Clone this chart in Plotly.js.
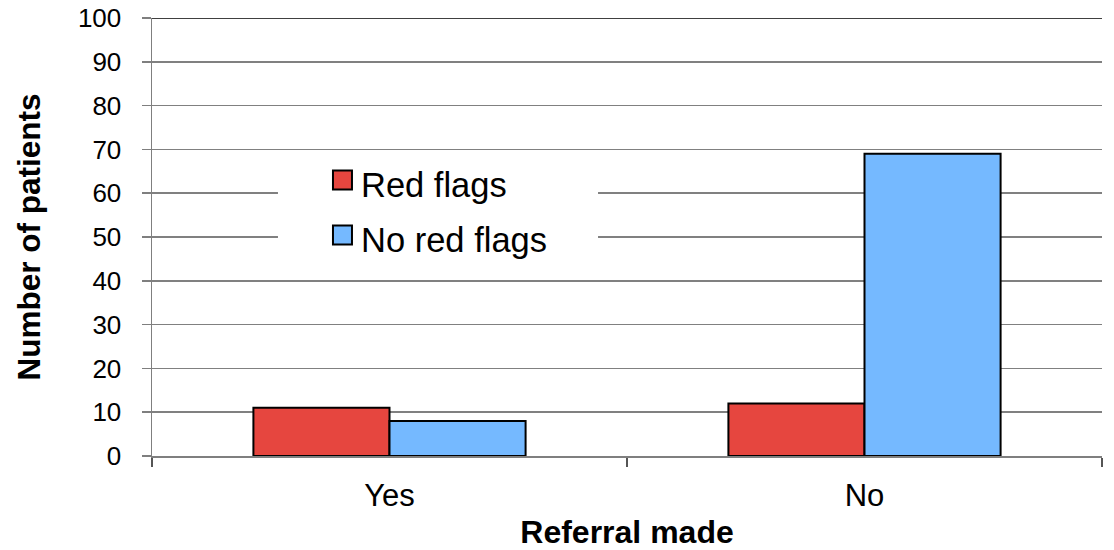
<!DOCTYPE html>
<html>
<head>
<meta charset="utf-8">
<script src="https://cdn.plot.ly/plotly-3.0.1.min.js"></script>
<style>
  html, body { margin: 0; padding: 0; background: #fff; }
  #chart { width: 1114px; height: 550px; }
</style>
</head>
<body>
<div id="chart"></div>
<script>
// Patients by whether a referral was made, split by red-flag status
const categories = ['Yes', 'No'];
const redFlags = [11, 12];
const noRedFlags = [8, 69];
const seriesNames = ['Red flags', 'No red flags'];
const seriesColors = ['#E6463F', '#75B9FF'];
const yTicks = [0, 10, 20, 30, 40, 50, 60, 70, 80, 90, 100];

const FONT = 'Liberation Sans, Arial, sans-serif';

const traces = [redFlags, noRedFlags].map((vals, i) => ({
  type: 'bar',
  name: seriesNames[i],
  x: categories,
  y: vals,
  marker: { color: seriesColors[i], line: { color: '#000', width: 2 } },
  hoverinfo: 'x+y+name'
}));

// Hand-placed legend box inside the plot area (paper coordinates)
const legendShapes = [
  { type: 'rect', xref: 'paper', yref: 'paper', x0: 0.1326, x1: 0.4695, y0: 0.4475, y1: 0.6644,
    fillcolor: '#fff', line: { width: 0 }, layer: 'above' }
];
const legendAnnots = [];
const swatchY = [0.630, 0.5046];
const textY = [0.6187, 0.4932];
seriesNames.forEach((name, i) => {
  legendShapes.push({
    type: 'rect', xref: 'paper', yref: 'paper',
    x0: 0.1905, x1: 0.2105, y0: swatchY[i] - 0.0217, y1: swatchY[i] + 0.0217,
    fillcolor: seriesColors[i], line: { color: '#000', width: 2 }, layer: 'above'
  });
  legendAnnots.push({
    xref: 'paper', yref: 'paper', x: 0.2180, y: textY[i],
    xanchor: 'left', yanchor: 'middle', showarrow: false,
    text: name, font: { family: FONT, size: 34.5, color: '#000' }
  });
});

// Dark line along the top of the plot area
legendShapes.push({
  type: 'line', xref: 'paper', yref: 'y', x0: 0, x1: 1, y0: 100, y1: 100,
  line: { color: '#000', width: 1.5 }, layer: 'above'
});

const layout = {
  width: 1114, height: 550,
  margin: { l: 152, r: 12, t: 18, b: 94 },
  paper_bgcolor: '#fff', plot_bgcolor: '#fff',
  barmode: 'group', bargap: 0.427, bargroupgap: 0,
  showlegend: false,
  font: { family: FONT, color: '#000' },
  xaxis: {
    type: 'category',
    showline: true, linecolor: '#7f7f7f', linewidth: 1.5,
    ticks: 'outside', tickson: 'boundaries', ticklen: 9, tickcolor: '#555', tickwidth: 1.5,
    tickfont: { family: FONT, size: 31, color: '#000' },
    ticklabelstandoff: 11,
    showgrid: false, zeroline: false,
    title: { text: '<b>Referral made</b>', font: { family: FONT, size: 32, color: '#000' }, standoff: 10 }
  },
  yaxis: {
    range: [0, 100], tickvals: yTicks, ticktext: yTicks.map(String),
    showline: true, linecolor: '#7f7f7f', linewidth: 1.5,
    ticks: 'outside', ticklen: 9, tickcolor: '#7f7f7f', tickwidth: 1.5,
    tickfont: { family: FONT, size: 26, color: '#000' },
    ticklabelstandoff: 15,
    showgrid: true, gridcolor: '#808080', gridwidth: 1.5,
    zeroline: false,
    title: { text: '<b>Number of patients</b>', font: { family: FONT, size: 31.5, color: '#000' }, standoff: 28 }
  },
  shapes: legendShapes,
  annotations: legendAnnots
};

Plotly.newPlot('chart', traces, layout, { staticPlot: true, displayModeBar: false });
</script>
</body>
</html>
